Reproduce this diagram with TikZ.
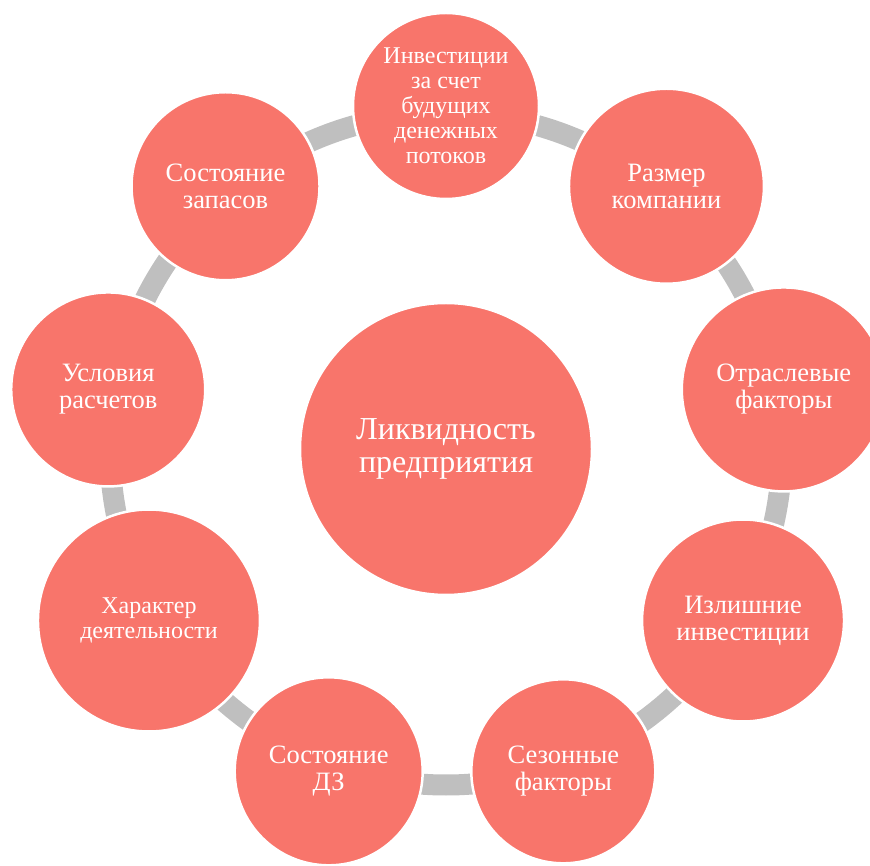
\documentclass[tikz,border=0pt]{standalone}
\usepackage{fontspec}
\setmainfont{Liberation Serif}
\usetikzlibrary{calc}
\definecolor{petal}{RGB}{248,117,107}
\definecolor{ringgray}{RGB}{191,191,191}

\begin{document}
\begin{tikzpicture}[x=1pt,y=1pt,
  ring/.style={draw=ringgray,line width=21pt},
  factor/.style={circle,fill=petal,draw=white,line width=2.5pt,inner sep=0pt,
    text=white,align=center,font=\fontsize{26.5}{27}\selectfont},
  smalltext/.style={font=\fontsize{24}{25}\selectfont},
  hub/.style={factor,font=\fontsize{32}{33.5}\selectfont}]
  \useasboundingbox (0,0) rectangle (870,865);
  \coordinate (ctr) at (446,416);
  % ring behind the factors
  \draw[ring] (ctr) circle (336pt);
  \node[hub,minimum size=292pt] (hub) at (ctr) {Ликвидность\\предприятия};
  \foreach \i/\ang/\d/\sty/\lab in {1/90/186/smalltext/{Инвестиции\\за счет\\будущих\\денежных\\потоков},
      2/50/195/factor/{Размер\\компании},3/10/204/factor/{Отраслевые\\факторы},
      4/-30/202/factor/{Излишние\\инвестиции},5/-70/184/factor/{Сезонные\\факторы},
      6/-110/188/factor/{Состояние\\ДЗ},7/-150/222/smalltext/{Характер\\деятельности},
      8/170/194/factor/{Условия\\расчетов},9/130/188/factor/{Состояние\\запасов}}{
    \node[factor,\sty,minimum size=\d pt] (f\i) at ($(ctr)+(\ang:343)$) {\lab};
  }
\end{tikzpicture}
\end{document}
